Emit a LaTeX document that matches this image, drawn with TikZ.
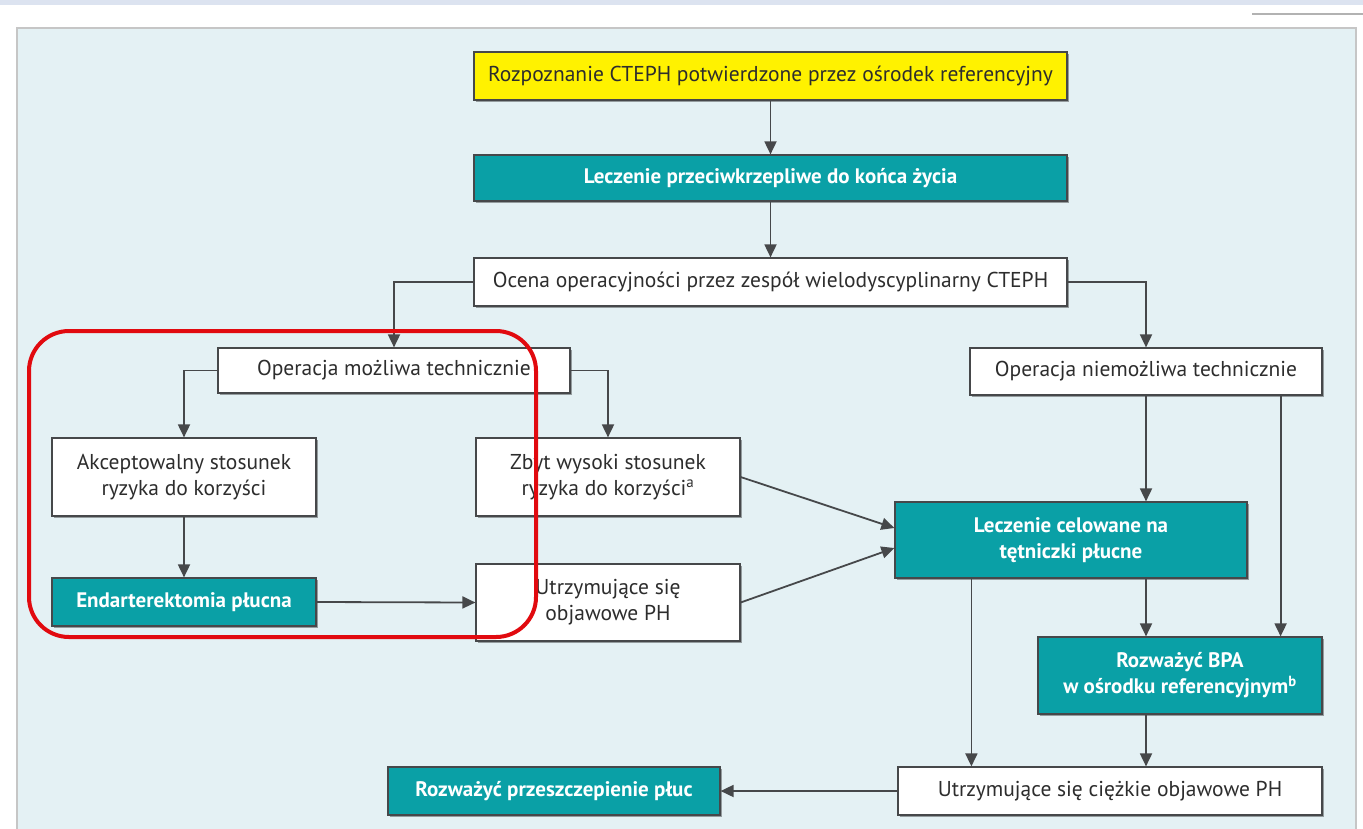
\documentclass[tikz,border=0pt]{standalone}
\usepackage{fontspec}
\setmainfont{PT Sans}
\usetikzlibrary{arrows.meta,shadows}
\definecolor{tealc}{RGB}{10,160,166}
\definecolor{yelc}{RGB}{255,242,0}
\definecolor{panelc}{RGB}{228,241,244}
\definecolor{bandc}{RGB}{220,227,240}
\definecolor{linec}{RGB}{70,72,74}
\definecolor{txtc}{RGB}{45,45,45}
\definecolor{redc}{RGB}{225,10,15}
\tikzset{
  box/.style={draw=linec, line width=1.2pt, inner sep=0pt, align=center,
    font=\fontsize{21.5}{26}\selectfont,
    drop shadow={shadow xshift=1.5pt, shadow yshift=-1.5pt, fill=black, opacity=0.35}},
  wbox/.style={box, fill=white, text=txtc},
  tbox/.style={box, fill=tealc, text=white, font=\fontsize{21}{26}\selectfont\bfseries},
  ybox/.style={box, fill=yelc, text=txtc},
  arr/.style={draw=linec, line width=1.8pt, -{Triangle[length=13pt,width=12pt]}}
}
\begin{document}
\begin{tikzpicture}[x=1pt,y=-1pt]
\useasboundingbox (0,0) rectangle (1363,828);
\fill[white] (0,0) rectangle (1363,828);
\fill[bandc] (0,0) rectangle (1363,5);
\draw[gray!60, line width=1.5pt] (1252,14) -- (1363,14);
\fill[panelc] (17,28) rectangle (1356,830);
\draw[gray!45, line width=1.2pt] (17,830) -- (17,28) -- (1356,28) -- (1356,830);

\node[ybox, minimum width=593pt, minimum height=48pt] (n1) at (770.5,76) {Rozpoznanie CTEPH potwierdzone przez ośrodek referencyjny};
\node[tbox, minimum width=593pt, minimum height=46pt] (n2) at (770.5,178) {Leczenie przeciwkrzepliwe do końca życia};
\node[wbox, minimum width=593pt, minimum height=48pt] (n3) at (770.5,282) {Ocena operacyjności przez zespół wielodyscyplinarny CTEPH};
\node[wbox, minimum width=352pt, minimum height=45pt] (n4) at (394,370.5) {Operacja możliwa technicznie};
\node[wbox, minimum width=352pt, minimum height=47pt] (n5) at (1146,371.5) {Operacja niemożliwa technicznie};
\node[wbox, minimum width=264pt, minimum height=78pt] (n6) at (184,477) {Akceptowalny stosunek\\ryzyka do korzyści};
\node[wbox, minimum width=264pt, minimum height=78pt] (n7) at (608,477) {Zbyt wysoki stosunek\\ryzyka do korzyści\textsuperscript{a}};
\node[tbox, minimum width=352pt, minimum height=76pt] (n8) at (1071,540) {Leczenie celowane na\\tętniczki płucne};
\node[tbox, minimum width=264pt, minimum height=48pt] (n9) at (184,602) {Endarterektomia płucna};
\node[wbox, minimum width=264pt, minimum height=77pt] (n10) at (608,602.5) {Utrzymujące się\\objawowe PH};
\node[tbox, minimum width=284pt, minimum height=77pt] (n11) at (1180,675.5) {Rozważyć BPA\\w ośrodku referencyjnym\textsuperscript{b}};
\node[wbox, minimum width=424pt, minimum height=48pt] (n12) at (1110,791) {Utrzymujące się ciężkie objawowe PH};
\node[tbox, minimum width=332pt, minimum height=48pt] (n13) at (554,791) {Rozważyć przeszczepienie płuc};

\draw[arr] (n1) -- (n2);
\draw[arr] (n2) -- (n3);
\draw[arr] (n3.west) -| (n4.north);
\draw[arr] (n3.east) -| (n5.north);
\draw[arr] (n4.west) -| (n6.north);
\draw[arr] (n4.east) -| (n7.north);
\draw[arr] (n6) -- (n9);
\draw[arr] (n9.east) -- (n10.west);
\draw[arr] (n7.east) -- ([yshift=12pt]n8.west);
\draw[arr] (n10.east) -- ([yshift=-8pt]n8.west);
\draw[arr] (n5.south) -- (n5.south |- n8.north);
\draw[arr] ([xshift=-42pt]n5.south east) -- ([xshift=-42pt]n11.north east);
\draw[arr] (n8.south -| n5.south) -- (n11.north -| n5.south);
\draw[arr] ([xshift=77pt]n8.south west) -- ([xshift=77pt]n8.south west |- n12.north);
\draw[arr] (n11.south -| n5.south) -- (n12.north -| n5.south);
\draw[arr] (n12.west) -- (n13.east);

\draw[redc, line width=4pt, rounded corners=40pt] (29,331) rectangle (536,637);
\end{tikzpicture}
\end{document}
